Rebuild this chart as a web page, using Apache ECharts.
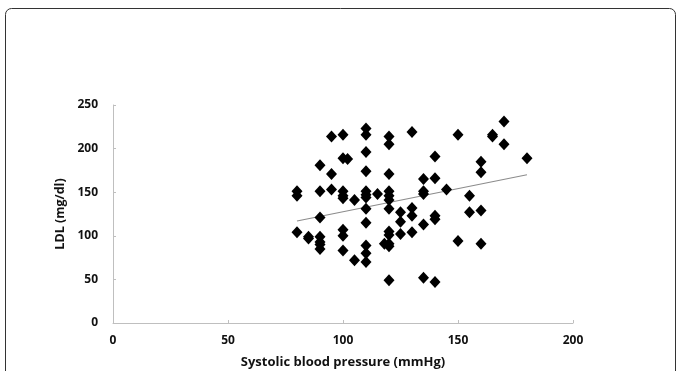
<!DOCTYPE html>
<html>
<head>
<meta charset="utf-8">
<script src="https://cdn.jsdelivr.net/npm/echarts@6/dist/echarts.min.js"></script>
<style>
  html, body { margin: 0; padding: 0; background: #fff; }
  #main { width: 677px; height: 371px; }
</style>
</head>
<body>
<div id="main"></div>
<script>
// systolic blood pressure (mmHg)
var sbp = [
  80, 80, 80, 85, 85,
  90, 90, 90, 90, 90, 90, 90,
  95, 95, 95,
  100, 100, 102, 100, 100, 100, 100, 100, 100,
  105, 105,
  110, 110, 110, 110, 110, 110, 110, 110, 110, 110, 110, 110,
  115,
  120, 120, 120, 120, 120, 120, 120, 120, 120, 118, 120, 120, 120,
  125, 125, 125,
  130, 130, 130, 130,
  135, 135, 135, 135, 135,
  140, 140, 140, 140, 140,
  145,
  150, 150,
  155, 155,
  160, 160, 160, 160,
  165, 165,
  170, 170,
  180
];
// LDL (mg/dl)
var ldl = [
  151, 146, 104, 99, 97,
  181, 151, 121, 99, 93, 90, 85,
  214, 171, 153,
  216, 189, 188, 151, 146, 143, 107, 100, 83,
  141, 72,
  223, 216, 196, 174, 151, 147, 144, 131, 115, 89, 80, 70,
  148,
  214, 205, 171, 151, 146, 141, 131, 105, 101, 91, 91, 88, 49,
  127, 116, 102,
  219, 132, 123, 104,
  165, 151, 148, 113, 52,
  191, 166, 123, 119, 47,
  153,
  216, 94,
  146, 127,
  185, 173, 129, 91,
  216, 214,
  231, 205,
  189
];
// linear trend line endpoints
var trendX = [80, 180];
var trendY = [117, 170];

var points = sbp.map(function (x, i) { return [x, ldl[i]]; });
var trend = trendX.map(function (x, i) { return [x, trendY[i]]; });

var chart = echarts.init(document.getElementById('main'));
var labelFont = { color: '#111', fontWeight: 'bold', fontFamily: 'Open Sans', fontSize: 12 };

chart.setOption({
  animation: false,
  backgroundColor: '#fff',
  graphic: [{
    type: 'rect',
    shape: { x: 5.5, y: 8.5, width: 670, height: 400, r: 6 },
    style: { fill: 'none', stroke: '#333', lineWidth: 1 },
    silent: true
  }],
  grid: { left: 113, right: 104, top: 105, bottom: 48, outerBoundsMode: 'none', containLabel: false },
  xAxis: {
    type: 'value', min: 0, max: 200, interval: 50,
    name: 'Systolic blood pressure (mmHg)',
    nameLocation: 'middle', nameGap: 33,
    nameTextStyle: { color: '#111', fontWeight: 'bold', fontFamily: 'Open Sans', fontSize: 13 },
    axisLine: { lineStyle: { color: '#bfbfbf', width: 1 } },
    axisTick: { show: true, inside: true, length: 3, lineStyle: { color: '#bfbfbf' } },
    axisLabel: Object.assign({ margin: 12 }, labelFont),
    splitLine: { show: false }
  },
  yAxis: {
    type: 'value', min: 0, max: 250, interval: 50,
    name: 'LDL (mg/dl)',
    nameLocation: 'middle', nameGap: 41,
    nameTextStyle: { color: '#111', fontWeight: 'bold', fontFamily: 'Open Sans', fontSize: 12.5 },
    axisLine: { show: true, lineStyle: { color: '#bfbfbf', width: 1 } },
    axisTick: { show: true, inside: true, length: 3, lineStyle: { color: '#bfbfbf' } },
    axisLabel: Object.assign({ margin: 15 }, labelFont),
    splitLine: { show: false }
  },
  series: [{
    type: 'line',
    data: trend,
    symbol: 'none',
    lineStyle: { color: '#8c8c8c', width: 1.2 },
    z: 1
  }, {
    type: 'scatter',
    data: points,
    symbol: 'diamond',
    symbolSize: [11, 12],
    itemStyle: { color: '#000', opacity: 1 },
    z: 2
  }]
});
</script>
</body>
</html>
